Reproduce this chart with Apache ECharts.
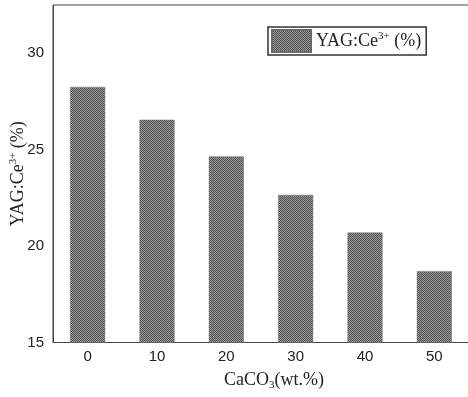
<!DOCTYPE html>
<html>
<head>
<meta charset="utf-8">
<script src="https://cdn.jsdelivr.net/npm/echarts@6/dist/echarts.min.js"></script>
<style>
  html, body { margin: 0; padding: 0; background: #fff; }
  #chart { width: 468px; height: 397px; }
</style>
</head>
<body>
<div id="chart"></div>
<script>
const categories = ['0', '10', '20', '30', '40', '50'];
const yagValues = [28.25, 26.55, 24.65, 22.65, 20.7, 18.7];
const seriesName = 'YAG:Ce3+ (%)';

// checkered fill like the printed hatch
const patternCanvas = document.createElement('canvas');
patternCanvas.width = 2;
patternCanvas.height = 2;
const pctx = patternCanvas.getContext('2d');
pctx.fillStyle = '#9a9a9a';
pctx.fillRect(0, 0, 2, 2);
pctx.fillStyle = '#505050';
pctx.fillRect(0, 0, 1, 1);
pctx.fillRect(1, 1, 1, 1);

const richSup = {
  base: { fontFamily: 'Liberation Serif', fontSize: 18, color: '#222' },
  sup: { fontFamily: 'Liberation Serif', fontSize: 11, color: '#222', verticalAlign: 'bottom', padding: [0, 0, 9, 0] },
  sub: { fontFamily: 'Liberation Serif', fontSize: 11, color: '#222', padding: [9, 0, 0, 0] }
};

const chart = echarts.init(document.getElementById('chart'));
chart.setOption({
  animation: false,
  grid: {
    left: 53, top: 5, width: 416, height: 337.5,
    outerBoundsMode: 'none', containLabel: false,
    show: true, borderColor: '#444', borderWidth: 1
  },
  legend: {
    left: 268, top: 27,
    padding: [2, 5, 2, 3],
    borderColor: '#333', borderWidth: 1.5,
    itemWidth: 39, itemHeight: 22, itemGap: 4,
    icon: 'rect',
    data: [seriesName],
    formatter: () => '{base|YAG:Ce}{sup|3+}{base| (%)}',
    textStyle: { rich: richSup, padding: [0, 0, 0, 0] }
  },
  xAxis: {
    type: 'category',
    data: categories,
    name: '{base|CaCO}{sub|3}{base|(wt.%)}',
    nameLocation: 'middle',
    nameGap: 28,
    nameMoveOverlap: false,
    nameTextStyle: { rich: richSup, padding: [0, 0, 0, 26] },
    axisLine: { lineStyle: { color: '#444', width: 1 } },
    axisTick: { show: false },
    axisLabel: { fontFamily: 'Liberation Sans', fontSize: 15, color: '#222', margin: 7 }
  },
  yAxis: {
    type: 'value',
    min: 15, max: 32.5, interval: 5,
    name: '{base|YAG:Ce}{sup|3+}{base| (%)}',
    nameLocation: 'middle',
    nameGap: 25,
    nameMoveOverlap: false,
    nameTextStyle: { rich: richSup },
    axisLine: { show: true, lineStyle: { color: '#444', width: 1 } },
    axisTick: { show: false },
    splitLine: { show: false },
    axisLabel: { fontFamily: 'Liberation Sans', fontSize: 15, color: '#222', margin: 9, showMaxLabel: false }
  },
  series: [{
    name: seriesName,
    type: 'bar',
    data: yagValues,
    barWidth: 35,
    itemStyle: {
      color: { image: patternCanvas, repeat: 'repeat' },
      borderColor: '#6a6a6a', borderWidth: 0.5
    }
  }]
});
</script>
</body>
</html>
